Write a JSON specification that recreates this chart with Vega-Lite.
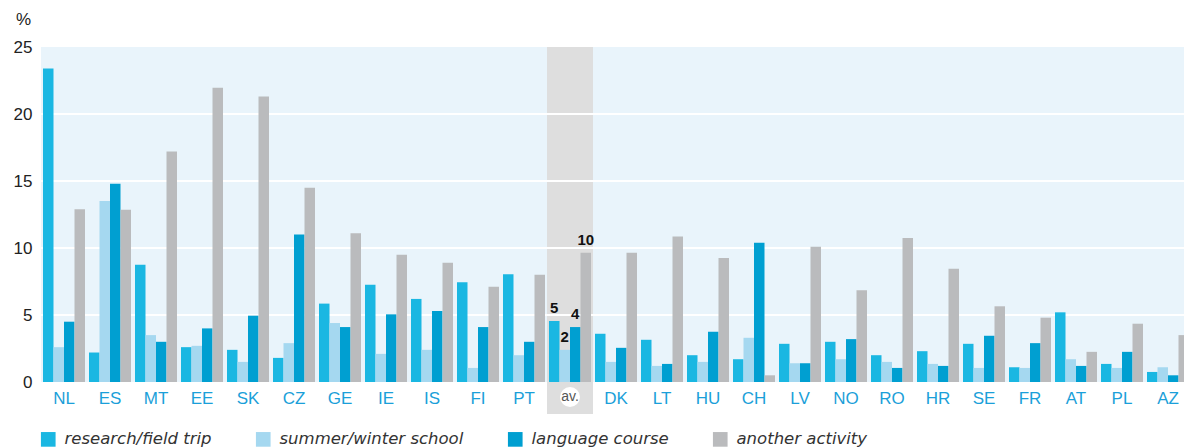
{
  "$schema": "https://vega.github.io/schema/vega-lite/v6.json",
  "width": 1150,
  "height": 335,
  "autosize": {"type": "none"},
  "padding": {"left": 41, "top": 47, "right": 0, "bottom": 66},
  "background": "white",
  "view": {"fill": "#E9F4FB", "stroke": null},
  "config": {
    "font": "Liberation Sans",
    "axis": {"labelFont": "Liberation Sans", "titleFont": "Liberation Sans"},
    "legend": {"labelFont": "DejaVu Sans"}
  },
  "datasets": {
    "main": [
      {"country": "NL", "type": "research/field trip", "value": 23.4},
      {"country": "NL", "type": "summer/winter school", "value": 2.6},
      {"country": "NL", "type": "language course", "value": 4.5},
      {"country": "NL", "type": "another activity", "value": 12.9},
      {"country": "ES", "type": "research/field trip", "value": 2.2},
      {"country": "ES", "type": "summer/winter school", "value": 13.5},
      {"country": "ES", "type": "language course", "value": 14.8},
      {"country": "ES", "type": "another activity", "value": 12.85},
      {"country": "MT", "type": "research/field trip", "value": 8.75},
      {"country": "MT", "type": "summer/winter school", "value": 3.5},
      {"country": "MT", "type": "language course", "value": 3.0},
      {"country": "MT", "type": "another activity", "value": 17.2},
      {"country": "EE", "type": "research/field trip", "value": 2.6},
      {"country": "EE", "type": "summer/winter school", "value": 2.7},
      {"country": "EE", "type": "language course", "value": 4.0},
      {"country": "EE", "type": "another activity", "value": 21.95},
      {"country": "SK", "type": "research/field trip", "value": 2.4},
      {"country": "SK", "type": "summer/winter school", "value": 1.5},
      {"country": "SK", "type": "language course", "value": 4.95},
      {"country": "SK", "type": "another activity", "value": 21.3},
      {"country": "CZ", "type": "research/field trip", "value": 1.8},
      {"country": "CZ", "type": "summer/winter school", "value": 2.9},
      {"country": "CZ", "type": "language course", "value": 11.0},
      {"country": "CZ", "type": "another activity", "value": 14.5},
      {"country": "GE", "type": "research/field trip", "value": 5.85},
      {"country": "GE", "type": "summer/winter school", "value": 4.4},
      {"country": "GE", "type": "language course", "value": 4.1},
      {"country": "GE", "type": "another activity", "value": 11.1},
      {"country": "IE", "type": "research/field trip", "value": 7.25},
      {"country": "IE", "type": "summer/winter school", "value": 2.1},
      {"country": "IE", "type": "language course", "value": 5.05},
      {"country": "IE", "type": "another activity", "value": 9.5},
      {"country": "IS", "type": "research/field trip", "value": 6.2},
      {"country": "IS", "type": "summer/winter school", "value": 2.4},
      {"country": "IS", "type": "language course", "value": 5.3},
      {"country": "IS", "type": "another activity", "value": 8.9},
      {"country": "FI", "type": "research/field trip", "value": 7.45},
      {"country": "FI", "type": "summer/winter school", "value": 1.05},
      {"country": "FI", "type": "language course", "value": 4.1},
      {"country": "FI", "type": "another activity", "value": 7.1},
      {"country": "PT", "type": "research/field trip", "value": 8.05},
      {"country": "PT", "type": "summer/winter school", "value": 2.0},
      {"country": "PT", "type": "language course", "value": 3.0},
      {"country": "PT", "type": "another activity", "value": 8.0},
      {"country": "av.", "type": "research/field trip", "value": 4.55},
      {"country": "av.", "type": "summer/winter school", "value": 2.4},
      {"country": "av.", "type": "language course", "value": 4.1},
      {"country": "av.", "type": "another activity", "value": 9.65},
      {"country": "DK", "type": "research/field trip", "value": 3.6},
      {"country": "DK", "type": "summer/winter school", "value": 1.5},
      {"country": "DK", "type": "language course", "value": 2.55},
      {"country": "DK", "type": "another activity", "value": 9.65},
      {"country": "LT", "type": "research/field trip", "value": 3.15},
      {"country": "LT", "type": "summer/winter school", "value": 1.2},
      {"country": "LT", "type": "language course", "value": 1.35},
      {"country": "LT", "type": "another activity", "value": 10.85},
      {"country": "HU", "type": "research/field trip", "value": 2.0},
      {"country": "HU", "type": "summer/winter school", "value": 1.5},
      {"country": "HU", "type": "language course", "value": 3.75},
      {"country": "HU", "type": "another activity", "value": 9.25},
      {"country": "CH", "type": "research/field trip", "value": 1.7},
      {"country": "CH", "type": "summer/winter school", "value": 3.3},
      {"country": "CH", "type": "language course", "value": 10.4},
      {"country": "CH", "type": "another activity", "value": 0.5},
      {"country": "LV", "type": "research/field trip", "value": 2.85},
      {"country": "LV", "type": "summer/winter school", "value": 1.4},
      {"country": "LV", "type": "language course", "value": 1.4},
      {"country": "LV", "type": "another activity", "value": 10.1},
      {"country": "NO", "type": "research/field trip", "value": 3.0},
      {"country": "NO", "type": "summer/winter school", "value": 1.7},
      {"country": "NO", "type": "language course", "value": 3.2},
      {"country": "NO", "type": "another activity", "value": 6.85},
      {"country": "RO", "type": "research/field trip", "value": 2.0},
      {"country": "RO", "type": "summer/winter school", "value": 1.5},
      {"country": "RO", "type": "language course", "value": 1.05},
      {"country": "RO", "type": "another activity", "value": 10.75},
      {"country": "HR", "type": "research/field trip", "value": 2.3},
      {"country": "HR", "type": "summer/winter school", "value": 1.35},
      {"country": "HR", "type": "language course", "value": 1.2},
      {"country": "HR", "type": "another activity", "value": 8.45},
      {"country": "SE", "type": "research/field trip", "value": 2.85},
      {"country": "SE", "type": "summer/winter school", "value": 1.05},
      {"country": "SE", "type": "language course", "value": 3.45},
      {"country": "SE", "type": "another activity", "value": 5.65},
      {"country": "FR", "type": "research/field trip", "value": 1.1},
      {"country": "FR", "type": "summer/winter school", "value": 1.05},
      {"country": "FR", "type": "language course", "value": 2.9},
      {"country": "FR", "type": "another activity", "value": 4.8},
      {"country": "AT", "type": "research/field trip", "value": 5.2},
      {"country": "AT", "type": "summer/winter school", "value": 1.7},
      {"country": "AT", "type": "language course", "value": 1.2},
      {"country": "AT", "type": "another activity", "value": 2.25},
      {"country": "PL", "type": "research/field trip", "value": 1.35},
      {"country": "PL", "type": "summer/winter school", "value": 1.05},
      {"country": "PL", "type": "language course", "value": 2.25},
      {"country": "PL", "type": "another activity", "value": 4.35},
      {"country": "AZ", "type": "research/field trip", "value": 0.75},
      {"country": "AZ", "type": "summer/winter school", "value": 1.1},
      {"country": "AZ", "type": "language course", "value": 0.5},
      {"country": "AZ", "type": "another activity", "value": 3.5}
    ],
    "avg": [{"country": "av."}],
    "grid": [{"g": 5}, {"g": 10}, {"g": 15}, {"g": 20}]
  },
  "encoding": {
    "x": {
      "field": "country",
      "type": "nominal",
      "sort": null,
      "scale": {
        "domain": ["NL","ES","MT","EE","SK","CZ","GE","IE","IS","FI","PT","av.","DK","LT","HU","CH","LV","NO","RO","HR","SE","FR","AT","PL","AZ"],
        "paddingInner": 0,
        "paddingOuter": 0
      },
      "axis": {
        "title": null,
        "labelAngle": 0,
        "domain": false,
        "ticks": false,
        "labelPadding": 8,
        "labelFontSize": 17,
        "labelColor": "#1B9FD9",
        "labelExpr": "datum.value === 'av.' ? '' : datum.value"
      }
    }
  },
  "layer": [
    {
      "data": {"name": "avg"},
      "mark": {"type": "rect", "color": "#DEDEDE", "clip": false},
      "encoding": {
        "y": {"datum": 25, "type": "quantitative"},
        "y2": {"datum": -2.39}
      }
    },
    {
      "data": {"name": "grid"},
      "mark": {"type": "rule", "color": "white", "strokeWidth": 2},
      "encoding": {
        "x": null,
        "y": {"field": "g", "type": "quantitative"}
      }
    },
    {
      "data": {"name": "main"},
      "mark": {"type": "bar"},
      "encoding": {
        "xOffset": {
          "field": "type",
          "type": "nominal",
          "sort": null,
          "scale": {"domain": ["research/field trip","summer/winter school","language course","another activity"], "paddingInner": 0, "paddingOuter": 0.19}
        },
        "y": {
          "field": "value",
          "type": "quantitative",
          "scale": {"domain": [0, 25], "nice": false, "zero": true},
          "axis": {
            "values": [0, 5, 10, 15, 20, 25],
            "grid": false,
            "domain": false,
            "ticks": false,
            "labelPadding": 9,
            "labelFontSize": 17,
            "labelColor": "#222222",
            "title": "%",
            "titleAngle": 0,
            "titleX": -18,
            "titleY": -28,
            "titleAlign": "center",
            "titleBaseline": "middle",
            "titleFontSize": 17,
            "titleFontWeight": "normal",
            "titleColor": "#222222"
          }
        },
        "color": {
          "field": "type",
          "type": "nominal",
          "sort": null,
          "scale": {
            "domain": ["research/field trip","summer/winter school","language course","another activity"],
            "range": ["#1AB7E2", "#A5D8F0", "#009FD1", "#BABBBD"]
          },
          "legend": {
            "orient": "none",
            "legendX": -1,
            "legendY": 384,
            "direction": "horizontal",
            "title": null,
            "symbolType": "square",
            "symbolSize": 215,
            "symbolStrokeWidth": 0,
            "labelFontSize": 16.5,
            "labelFontStyle": "italic",
            "labelColor": "#333333",
            "labelOffset": 8,
            "columnPadding": 43,
            "labelLimit": 300
          }
        }
      }
    },
    {
      "data": {"name": "main"},
      "transform": [{"filter": "datum.country === 'av.'"}],
      "mark": {"type": "text", "baseline": "bottom", "dy": -5, "fontSize": 15, "fontWeight": "bold", "color": "#111111"},
      "encoding": {
        "xOffset": {"field": "type", "type": "nominal", "sort": null},
        "y": {"field": "value", "type": "quantitative"},
        "text": {"field": "value", "type": "quantitative", "format": ".0f"}
      }
    },
    {
      "data": {"name": "avg"},
      "mark": {"type": "point", "shape": "circle", "filled": true, "color": "white", "opacity": 1, "size": 400},
      "encoding": {
        "y": {"datum": -1.12, "type": "quantitative"}
      }
    },
    {
      "data": {"name": "avg"},
      "mark": {"type": "text", "text": "av.", "fontSize": 14, "color": "#555555", "baseline": "middle"},
      "encoding": {
        "y": {"datum": -1.15, "type": "quantitative"}
      }
    }
  ]
}
